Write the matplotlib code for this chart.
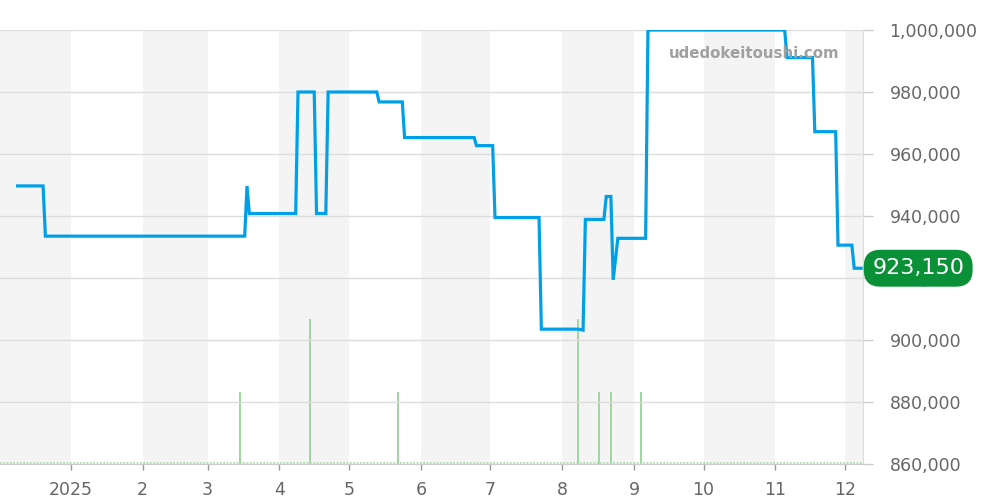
import numpy as np
import pandas as pd
import matplotlib
matplotlib.use("Agg")
import matplotlib.pyplot as plt
import matplotlib.dates as mdates

# price line vertices (date, yen)
price_dates = [
    "2024-12-09", "2024-12-20", "2024-12-21", "2025-03-17", "2025-03-18",
    "2025-03-19", "2025-04-08", "2025-04-09", "2025-04-16", "2025-04-17",
    "2025-04-21", "2025-04-22", "2025-05-13", "2025-05-14", "2025-05-24",
    "2025-05-25", "2025-06-24", "2025-06-25", "2025-07-02", "2025-07-03",
    "2025-07-22", "2025-07-23", "2025-08-08", "2025-08-10", "2025-08-11",
    "2025-08-19", "2025-08-20", "2025-08-22", "2025-08-23", "2025-08-25",
    "2025-09-06", "2025-09-07", "2025-11-05", "2025-11-06", "2025-11-17",
    "2025-11-18", "2025-11-27", "2025-11-28", "2025-12-04", "2025-12-05",
    "2025-12-08",
]
price_values = [
    949700, 949700, 933500, 933500, 949700,
    940800, 940800, 980000, 980000, 940800,
    940800, 980000, 980000, 976800, 976800,
    965300, 965300, 962700, 962700, 939500,
    939500, 903500, 903500, 903200, 938900,
    938900, 946300, 946300, 919400, 932800,
    932800, 1000000, 1000000, 991100, 991100,
    967200, 967200, 930600, 930600, 923150,
    923150,
]

# volume bars
vol_dates = ["2025-03-15", "2025-04-14", "2025-05-22", "2025-08-08",
             "2025-08-17", "2025-08-22", "2025-09-04"]
vol_values = [1, 2, 1, 2, 1, 1, 1]

last_price = 923150
month_labels = ["2025", "2", "3", "4", "5", "6", "7", "8", "9", "10", "11", "12"]

px = pd.to_datetime(price_dates)
vx = pd.to_datetime(vol_dates)

fig = plt.figure(figsize=(10, 5), dpi=100)
ax = fig.add_axes([0.0, 0.072, 0.863, 0.868])

x0 = mdates.date2num(pd.Timestamp("2024-12-01 10:00"))
x1 = mdates.date2num(pd.Timestamp("2025-12-08 19:00"))

# volume (and month shading) on a twin axis underneath the price axis
axv = ax.twinx()
axv.set_ylim(0, 6)
axv.set_xlim(x0, x1)

months = pd.date_range("2024-12-01", "2026-01-01", freq="MS")
for i in range(len(months) - 1):
    if i % 2 == 0:
        axv.axvspan(months[i], months[i + 1], color="#f4f4f4", lw=0, zorder=0)

axv.bar(vx, vol_values, width=0.85, color="#9fd99f", lw=0, zorder=2)
axv.axhline(0.02, color="#a3d9a3", lw=1.2, ls=(0, (1, 1)), zorder=2)
axv.set_yticks([])
for s in axv.spines.values():
    s.set_visible(False)

ax.set_zorder(axv.get_zorder() + 1)
ax.patch.set_visible(False)

ax.plot(px, price_values, color="#00a0e9", lw=2.3, solid_joinstyle="miter", zorder=3)

ax.set_xlim(x0, x1)
ax.set_ylim(860000, 1000000)
ax.set_yticks(np.arange(860000, 1000001, 20000))
ax.yaxis.tick_right()
ax.yaxis.set_major_formatter(plt.FuncFormatter(lambda v, p: f"{int(v):,}"))
ax.grid(axis="y", color="#dddddd", lw=1)
ax.set_axisbelow(True)

ticks = pd.date_range("2025-01-01", "2025-12-01", freq="MS")
ax.set_xticks(ticks)
ax.set_xticklabels(month_labels)

ax.tick_params(axis="y", colors="#cccccc", labelcolor="#666666", labelsize=12.5,
               length=7, pad=12, width=1)
ax.tick_params(axis="x", colors="#999999", labelcolor="#666666", labelsize=12.5,
               length=4, pad=8, width=1)

for k in ["top", "left"]:
    ax.spines[k].set_visible(False)
ax.spines["right"].set_color("#dddddd")
ax.spines["bottom"].set_color("#cccccc")

ax.text(0.973, 0.947, "udedokeitoushi.com", transform=ax.transAxes,
        ha="right", va="center", fontsize=10.8, fontweight="bold", color="#a0a0a0")

# last price badge (covers the 920,000 label, as in the original)
ax.annotate(f"{last_price:,}", xy=(1.0, last_price), xycoords=("axes fraction", "data"),
            xytext=(6.6, 0), textcoords="offset points", ha="left", va="center",
            fontsize=16, color="white", zorder=10, annotation_clip=False,
            bbox=dict(boxstyle="round,pad=0.38,rounding_size=0.75", fc="#0a9137", ec="none"))

fig.savefig("out.png", dpi=100)
